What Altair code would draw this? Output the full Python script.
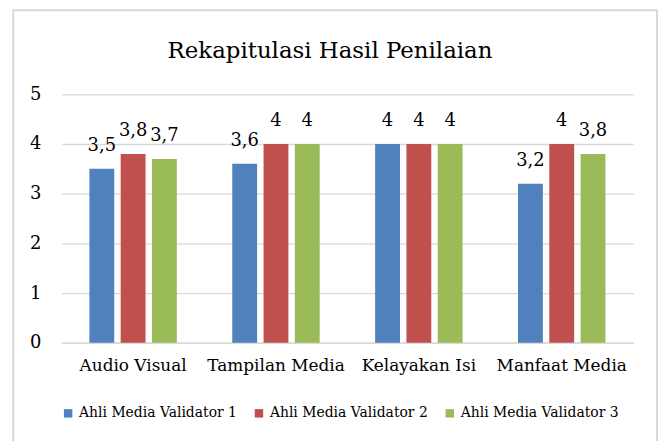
import altair as alt
import pandas as pd

categories = ["Audio Visual", "Tampilan Media", "Kelayakan Isi", "Manfaat Media"]
series = ["Ahli Media Validator 1", "Ahli Media Validator 2", "Ahli Media Validator 3"]
validator1 = [3.5, 3.6, 4, 3.2]
validator2 = [3.8, 4, 4, 4]
validator3 = [3.7, 4, 4, 3.8]
colors = ["#4F81BD", "#C0504D", "#9BBB59"]
title_text = ["Rekapitulasi Hasil Penilaian"]
y_ticks = [0, 1, 2, 3, 4, 5]

FONT = "DejaVu Serif"

rows = []
for s, vals in zip(series, [validator1, validator2, validator3]):
    for c, v in zip(categories, vals):
        rows.append({"kategori": c, "seri": s, "nilai": v})
df = pd.DataFrame(rows)

x_enc = alt.X("kategori:N", sort=categories,
              scale=alt.Scale(paddingInner=0.388, paddingOuter=0.194),
              axis=alt.Axis(title=None, labelAngle=0, ticks=False,
                            domainColor="#d9d9d9", domainWidth=1.3,
                            labelFont=FONT, labelFontSize=17,
                            labelColor="#000000", labelPadding=15))
xo_enc = alt.XOffset("seri:N", sort=series,
                     scale=alt.Scale(paddingInner=0.206, paddingOuter=0))
y_enc = alt.Y("nilai:Q", scale=alt.Scale(domain=[0, 5], nice=False),
              axis=alt.Axis(title=None, values=y_ticks, format="d",
                            domain=False, ticks=False,
                            gridColor="#d9d9d9", gridWidth=1.3,
                            labelFont=FONT, labelFontSize=18,
                            labelColor="#000000", labelPadding=21))

color_enc = alt.Color("seri:N", sort=series,
                      scale=alt.Scale(domain=series, range=colors),
                      legend=alt.Legend(title=None, orient="none",
                                        legendX=-0.5, legendY=314,
                                        direction="horizontal",
                                        symbolType="square", symbolSize=72,
                                        symbolStrokeWidth=0,
                                        labelFont=FONT, labelFontSize=14,
                                        labelColor="#000000", labelOffset=4,
                                        columnPadding=15, padding=0,
                                        labelLimit=400))

base = alt.Chart(df)

bars = base.mark_bar().encode(x=x_enc, xOffset=xo_enc, y=y_enc, color=color_enc)

labels = base.transform_calculate(
    label="replace(format(datum.nilai, '.1~f'), '.', ',')"
).mark_text(font=FONT, fontSize=18, baseline="alphabetic", dy=-18,
            color="#000000").encode(
    x=x_enc, xOffset=xo_enc, y=y_enc, text="label:N")

title = alt.Chart(pd.DataFrame({"t": title_text})).mark_text(
    font=FONT, fontSize=23, baseline="alphabetic", align="center",
    color="#000000").encode(
    x=alt.value(270), y=alt.value(-36.8), text="t:N")

border = alt.Chart(pd.DataFrame({"a": [0]})).mark_rect(
    fill=None, stroke="#d9d9d9", strokeWidth=2).encode(
    x=alt.value(-48.7), x2=alt.value(599), y=alt.value(-84.5), y2=alt.value(360))

chart = alt.layer(border, bars, labels, title).properties(
    width=575, height=250,
    autosize=alt.AutoSizeParams(type="none"),
    padding={"left": 54, "top": 85.5, "right": 26, "bottom": 97},
    background="#ffffff",
).configure_view(stroke=None)

chart.save("out.html", embed_options={"renderer": "svg", "actions": False})
